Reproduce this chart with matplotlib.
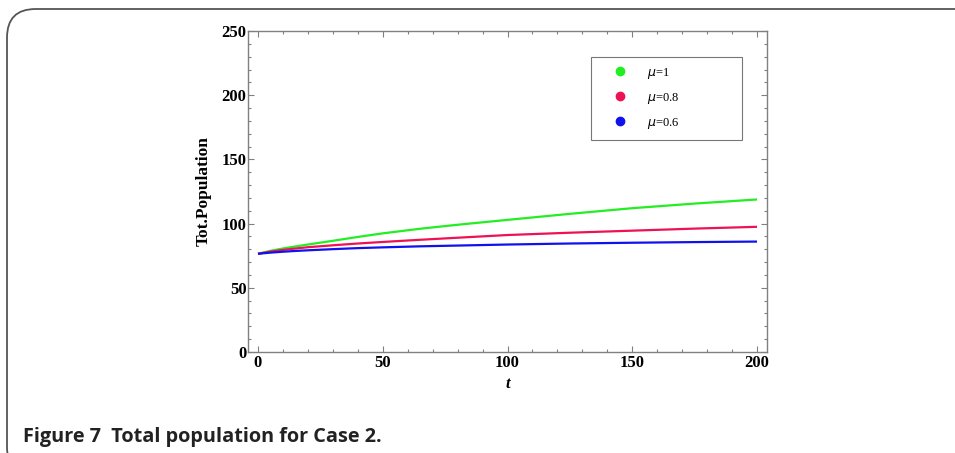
import matplotlib
matplotlib.use("Agg")
import matplotlib.pyplot as plt
from matplotlib.patches import FancyBboxPatch
from matplotlib.ticker import MultipleLocator
from matplotlib.lines import Line2D

t = [0, 5, 10, 15, 20, 30, 40, 50, 65, 80, 100, 125, 150, 175, 200]
green = [76.5, 78.8, 80.6, 82.2, 83.7, 86.6, 89.6, 92.4, 96.0, 99.1, 102.9, 107.6, 112.0, 115.6, 118.8]
red = [76.5, 78.2, 79.5, 80.6, 81.6, 83.1, 84.5, 85.7, 87.4, 89.0, 91.1, 92.9, 94.5, 96.1, 97.5]
blue = [76.5, 77.4, 78.1, 78.7, 79.2, 80.1, 80.9, 81.5, 82.3, 82.9, 83.7, 84.5, 85.1, 85.6, 86.0]
labels = [r"$\mu$=1", r"$\mu$=0.8", r"$\mu$=0.6"]
colors = ["#22ee22", "#ee1155", "#1111ee"]

fig = plt.figure(figsize=(9.55, 4.53), dpi=100)

# outer rounded frame
frame = FancyBboxPatch((7 / 955, -0.05), 1.2, (453 - 9) / 453 + 0.05,
                       boxstyle="round,pad=0,rounding_size=0.03",
                       transform=fig.transFigure, fill=False,
                       edgecolor="#555555", linewidth=1.3,
                       mutation_aspect=955 / 453)
fig.add_artist(frame)

ax = fig.add_axes([248 / 955, 1 - 352 / 453, (767 - 248) / 955, (352 - 31) / 453])

for y, c in zip([green, red, blue], colors):
    ax.plot(t, y, color=c, lw=1.6, solid_capstyle="butt")

ax.set_xlim(-4, 204)
ax.set_ylim(0, 250)
ax.xaxis.set_major_locator(MultipleLocator(50))
ax.xaxis.set_minor_locator(MultipleLocator(10))
ax.yaxis.set_major_locator(MultipleLocator(50))
ax.yaxis.set_minor_locator(MultipleLocator(10))
ax.tick_params(which="both", direction="in", top=True, right=True,
               color="#808080", width=0.8)
ax.tick_params(which="major", length=4, pad=3)
ax.tick_params(which="minor", length=2)
for s in ax.spines.values():
    s.set_color("#808080")
    s.set_linewidth(1.0)

tickfont = dict(family="Liberation Serif", weight="bold", size=12)
ax.set_xticks([0, 50, 100, 150, 200])
ax.set_xticklabels(["0", "50", "100", "150", "200"], **tickfont)
ax.set_yticks([0, 50, 100, 150, 200, 250])
ax.set_yticklabels(["0", "50", "100", "150", "200", "250"], **tickfont)
ax.tick_params(axis="y", pad=1)
ax.tick_params(axis="x", pad=2)

ax.set_xlabel("t", family="Liberation Serif", weight="bold", style="italic",
              size=12, labelpad=4)
ax.set_ylabel("Tot.Population", family="Liberation Serif", weight="bold",
              size=12.5, labelpad=7)

handles = [Line2D([], [], ls="none", marker="o", ms=6, color=c) for c in colors]
leg = ax.legend(handles, labels, loc="upper left",
                bbox_to_anchor=((591 - 248) / 519, 1 - (137 - 31) / 321,
                                (742 - 591) / 519, (137 - 57) / 321),
                mode="expand", frameon=True, fancybox=False,
                prop=dict(family="Liberation Serif", size=9),
                handletextpad=0.6, labelspacing=0.8, borderpad=0.7,
                borderaxespad=0, handlelength=3.2)
leg.get_frame().set_edgecolor("#555555")
leg.get_frame().set_linewidth(0.8)

fig.text(23 / 955, 1 - 437 / 453, "Figure 7  Total population for Case 2.",
         family="Open Sans", weight="bold", size=14.3, va="center", ha="left",
         color="#222222")

fig.savefig("out.png", dpi=100)
